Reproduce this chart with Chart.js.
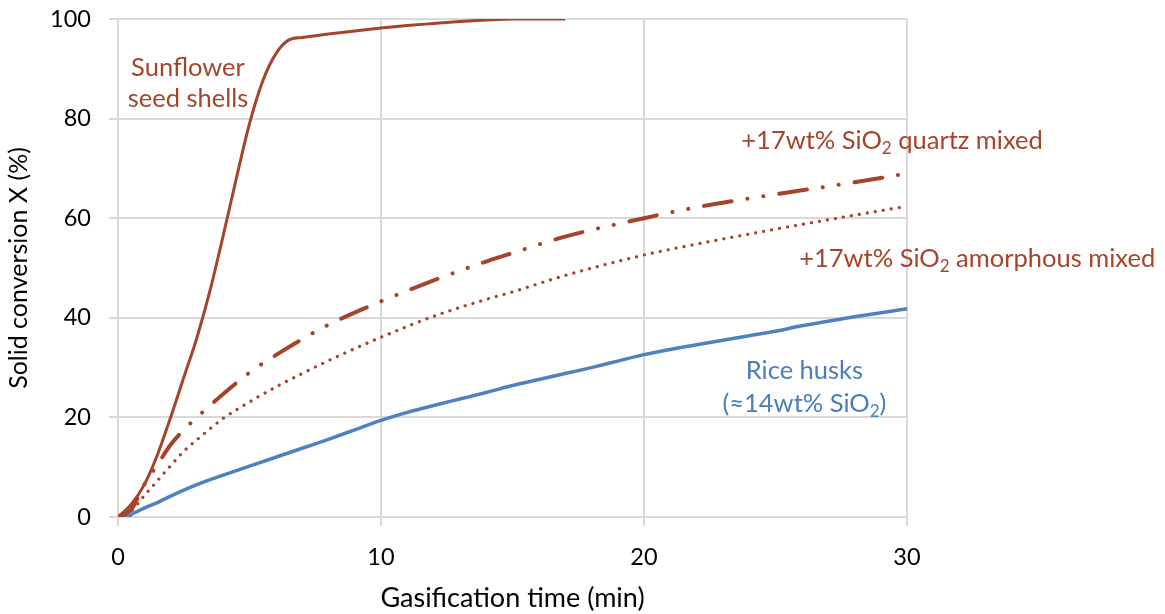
<!DOCTYPE html>
<html>
<head>
<meta charset="utf-8">
<script src="https://cdn.jsdelivr.net/npm/chart.js@4"></script>
<style>
html,body{margin:0;padding:0;background:#fff;}
#wrap{width:1165px;height:614px;position:relative;}
</style>
</head>
<body>
<div id="wrap"><canvas id="c" width="1165" height="614"></canvas></div>
<script>
// ---- data ----
const sunflowerT = [0,0.5,1,1.5,2,2.5,3,3.5,4,4.5,5,5.5,6,6.5,7,8,9,10,11,12,13,14,15,17];
const sunflowerX = [0,2.5,6.5,12.5,20,28,36,45.5,56.5,68,79,87.5,93,95.8,96.3,97,97.6,98.2,98.7,99.1,99.5,99.8,100,100];

const quartzT = [0,0.5,1,1.5,2,2.5,3,4,5,6,7,8,10,12,14,15,17,20,22,25,28,30];
const quartzX = [0,1.5,6.5,10.5,14.5,17.5,20,24.7,29,32.5,35.7,38.6,43.3,47.5,51.3,53,56.3,60,62.2,64.8,67.2,69];

const amorphT = [0,0.5,1,1.5,2,2.5,3,4,5,6,7,8,10,12,14,15,17,20,22,25,28,30];
const amorphX = [0,1.2,4.3,7.3,10.3,13.2,15.5,19.8,23.1,26.1,28.8,31.4,36.1,40.3,43.7,45.2,48.5,52.6,54.8,57.8,60.6,62.4];

const riceT = [0,0.3,0.6,1,1.5,2,3,4,5,6,7,8,9,10,11,12,13,14,15,16,17,18,19,20,22,24,25,26,27,28,30];
const riceX = [0,0,0.8,1.8,2.9,4.2,6.5,8.4,10.2,12,13.8,15.6,17.5,19.4,21,22.4,23.7,25,26.4,27.6,28.8,30,31.3,32.6,34.6,36.4,37.3,38.4,39.3,40.2,41.8];

const xTicks = [0,10,20,30];
const yTicks = [0,20,40,60,80,100];

const labels = [
  {lines:[["Sunflower"],["seed shells"]], t:2.66, X:[90.2,84.0], align:'center', color:'#A5442B'},
  {lines:[["+17wt% SiO","2"," quartz mixed"]], t:23.7, X:[75.6], align:'left', color:'#A5442B'},
  {lines:[["+17wt% SiO","2"," amorphous mixed"]], t:25.9, X:[51.9], align:'left', color:'#A5442B'},
  {lines:[["Rice husks"],["(≈14wt% SiO","2",")"]], t:26.1, X:[29.4,22.8], align:'center', color:'#4A7EBB'}
];

const brown = '#A5442B';
const blue = '#4F81BD';
const FONT = 'Lato, Carlito, Calibri, sans-serif';
const LBL = 25.5, SUB = 17;

function pts(t, x){ return t.map((v,i)=>({x:v,y:x[i]})); }

const labelPlugin = {
  id:'labels',
  afterDatasetsDraw(chart){
    const ctx = chart.ctx;
    const xs = chart.scales.x, ys = chart.scales.y;
    ctx.save();
    ctx.textBaseline = 'middle';
    labels.forEach(l=>{
      l.lines.forEach((parts,li)=>{
        const y = ys.getPixelForValue(l.X[li]);
        const x0 = xs.getPixelForValue(l.t);
        let w = 0;
        const widths = parts.map((p,pi)=>{
          ctx.font = (pi===1 ? SUB : LBL) + 'px ' + FONT;
          const mw = ctx.measureText(p).width; w += mw; return mw;
        });
        let x = l.align==='center' ? x0 - w/2 : x0;
        ctx.fillStyle = l.color;
        ctx.textAlign = 'left';
        parts.forEach((p,pi)=>{
          ctx.font = (pi===1 ? SUB : LBL) + 'px ' + FONT;
          ctx.fillText(p, x, pi===1 ? y+8 : y);
          x += widths[pi];
        });
      });
    });
    ctx.restore();
  }
};

new Chart(document.getElementById('c'), {
  type:'line',
  data:{
    datasets:[
      {label:'Sunflower seed shells', data:pts(sunflowerT,sunflowerX), borderColor:brown, borderWidth:3, pointRadius:0, cubicInterpolationMode:'monotone', fill:false},
      {label:'+17wt% SiO2 quartz mixed', data:pts(quartzT,quartzX), borderColor:brown, borderWidth:4, borderDash:[28,16,0.1,16,0.1,16], borderCapStyle:'round', pointRadius:0, cubicInterpolationMode:'monotone', fill:false},
      {label:'+17wt% SiO2 amorphous mixed', data:pts(amorphT,amorphX), borderColor:brown, borderWidth:3.2, borderDash:[0.1,8], borderCapStyle:'round', pointRadius:0, cubicInterpolationMode:'monotone', fill:false},
      {label:'Rice husks', data:pts(riceT,riceX), borderColor:blue, borderWidth:3.5, pointRadius:0, cubicInterpolationMode:'monotone', fill:false}
    ]
  },
  options:{
    responsive:false,
    animation:false,
    layout:{padding:{top:19,right:258,left:0,bottom:0}},
    plugins:{legend:{display:false}, tooltip:{enabled:false}},
    scales:{
      x:{
        type:'linear', min:0, max:30,
        afterBuildTicks(s){ s.ticks = xTicks.map(v=>({value:v})); },
        afterFit(s){ s.height = 97; s.paddingLeft = 0; s.paddingRight = 0; },
        grid:{color:'#d9d9d9', lineWidth:2, tickLength:9, drawTicks:true},
        border:{color:'#d9d9d9', width:2},
        ticks:{color:'#000', font:{family:FONT, size:23.5}, padding:17, maxRotation:0},
        title:{display:true, text:'Gasification time (min)', color:'#000', font:{family:FONT, size:27}, padding:{top:2,bottom:0}}
      },
      y:{
        min:0, max:100,
        afterBuildTicks(s){ s.ticks = yTicks.map(v=>({value:v})); },
        afterFit(s){ s.width = 118; s.paddingTop = 0; s.paddingBottom = 0; },
        grid:{color:'#d9d9d9', lineWidth:2, tickLength:9},
        border:{color:'#d9d9d9', width:2},
        ticks:{color:'#000', font:{family:FONT, size:23.5}, padding:18},
        title:{display:true, text:'Solid conversion X (%)', color:'#000', font:{family:FONT, size:25}, padding:{top:4,bottom:8}}
      }
    }
  },
  plugins:[labelPlugin]
});
</script>
</body>
</html>
